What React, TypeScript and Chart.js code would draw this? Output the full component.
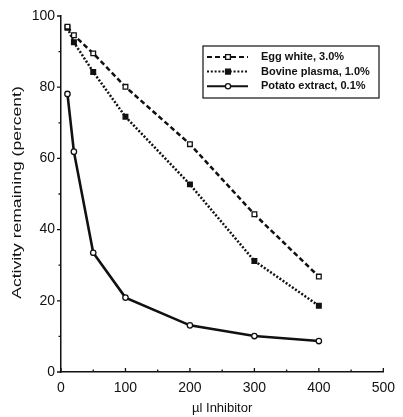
import React, { useEffect, useRef } from "react";
import { Chart, registerables } from "chart.js";

Chart.register(...registerables);

const doses = [10, 20, 50, 100, 200, 300, 400];
const eggWhite = [97, 94.6, 89.5, 80.1, 64.0, 44.3, 26.8];
const bovinePlasma = [96.7, 92.6, 84.3, 71.7, 52.7, 31.2, 18.6];
const potatoExtract = [78.1, 61.9, 33.5, 20.9, 13.1, 10.1, 8.7];
const seriesLabels = ["Egg white, 3.0%", "Bovine plasma, 1.0%", "Potato extract, 0.1%"];
const xTitle = "\u00b5l Inhibitor";
const yTitle = "Activity remaining (percent)";

const FONT = "'Liberation Sans', Arial, Helvetica, sans-serif";
const INK = "#111";

const ticksPlugin = {
  id: "customTicks",
  afterDraw(chart: any) {
    const ctx = chart.ctx;
    const xs = chart.scales.x;
    const ys = chart.scales.y;
    ctx.save();
    ctx.strokeStyle = INK;
    ctx.lineWidth = 1.3;
    ctx.beginPath();
    for (let v = 0; v <= 500; v += 50) {
      const px = xs.getPixelForValue(v);
      const len = v % 100 === 0 ? 4 : 2.5;
      ctx.moveTo(px, xs.top);
      ctx.lineTo(px, xs.top - len);
    }
    for (let v = 0; v <= 100; v += 10) {
      const py = ys.getPixelForValue(v);
      const len = v % 20 === 0 ? 4 : 2.5;
      ctx.moveTo(ys.right, py);
      ctx.lineTo(ys.right - len, py);
    }
    ctx.stroke();
    // y-axis title (stretched like the original scan)
    const cy = (chart.chartArea.top + chart.chartArea.bottom) / 2 - 1.5;
    ctx.translate(17.5, cy);
    ctx.rotate(-Math.PI / 2);
    ctx.scale(1.35, 1);
    ctx.fillStyle = INK;
    ctx.font = `13px ${FONT}`;
    ctx.textAlign = "center";
    ctx.textBaseline = "middle";
    ctx.fillText(yTitle, 0, 0);
    ctx.restore();
  },
};

function drawMarker(ctx: any, style: string, x: number, y: number, fill: string) {
  ctx.beginPath();
  if (style === "circle") {
    ctx.arc(x, y, 2.6, 0, Math.PI * 2);
  } else {
    ctx.rect(x - 2.4, y - 2.4, 4.8, 4.8);
  }
  ctx.fillStyle = fill;
  ctx.fill();
  ctx.setLineDash([]);
  ctx.lineWidth = 1.3;
  ctx.strokeStyle = INK;
  ctx.stroke();
}

const legendPlugin = {
  id: "boxLegend",
  afterDraw(chart: any) {
    const ctx = chart.ctx;
    const boxL = 203, boxT = 46, boxW = 176, boxH = 52;
    ctx.save();
    ctx.fillStyle = "#fff";
    ctx.fillRect(boxL, boxT, boxW, boxH);
    ctx.strokeStyle = INK;
    ctx.lineWidth = 1.2;
    ctx.setLineDash([]);
    ctx.strokeRect(boxL, boxT, boxW, boxH);
    chart.data.datasets.forEach((ds: any, i: number) => {
      const y = 57 + i * 14.6;
      ctx.beginPath();
      ctx.setLineDash(ds.borderDash || []);
      ctx.lineWidth = 2;
      ctx.strokeStyle = INK;
      ctx.moveTo(207, y);
      ctx.lineTo(248, y);
      ctx.stroke();
      drawMarker(ctx, ds.pointStyle, 228, y, ds.pointBackgroundColor);
      ctx.fillStyle = INK;
      ctx.font = `bold 11px ${FONT}`;
      ctx.textBaseline = "middle";
      ctx.textAlign = "left";
      ctx.fillText(ds.label, 261, y);
    });
    ctx.restore();
  },
};

export default function App() {
  const ref = useRef<HTMLCanvasElement>(null);
  useEffect(() => {
    document.body.style.margin = "0";
    const mk = (vals: number[]) => doses.map((x, i) => ({ x, y: vals[i] }));
    const chart = new Chart(ref.current!, {
      type: "line",
      data: {
        datasets: [
          {
            label: seriesLabels[0],
            data: mk(eggWhite),
            borderColor: INK,
            borderWidth: 2.5,
            borderDash: [5, 3],
            pointStyle: "rect",
            pointRadius: 3.3,
            pointBackgroundColor: "#fff",
            pointBorderColor: INK,
            pointBorderWidth: 1.3,
            tension: 0,
          },
          {
            label: seriesLabels[1],
            data: mk(bovinePlasma),
            borderColor: INK,
            borderWidth: 2.5,
            borderDash: [2, 1.8],
            pointStyle: "rect",
            pointRadius: 3.3,
            pointBackgroundColor: INK,
            pointBorderColor: INK,
            pointBorderWidth: 1.3,
            tension: 0,
          },
          {
            label: seriesLabels[2],
            data: mk(potatoExtract),
            borderColor: INK,
            borderWidth: 2.6,
            pointStyle: "circle",
            pointRadius: 2.7,
            pointBackgroundColor: "#fff",
            pointBorderColor: INK,
            pointBorderWidth: 1.3,
            tension: 0,
          },
        ],
      },
      options: {
        animation: false,
        responsive: false,
        devicePixelRatio: 1,
        layout: { padding: { top: 16, right: 13, left: 0, bottom: 0 } },
        plugins: { legend: { display: false }, tooltip: { enabled: false } },
        scales: {
          x: {
            type: "linear",
            min: 0,
            max: 500,
            afterFit: (s: any) => { s.height = 45; },
            grid: { display: false, drawTicks: false },
            border: { display: true, color: INK, width: 1.5 },
            ticks: { stepSize: 100, padding: 8, color: INK, font: { family: FONT, size: 14 } },
            title: { display: true, text: xTitle, color: INK, font: { family: FONT, size: 13 }, padding: { top: 0, bottom: 1 } },
          },
          y: {
            type: "linear",
            min: 0,
            max: 100,
            afterFit: (s: any) => { s.width = 61; },
            grid: { display: false, drawTicks: false },
            border: { display: true, color: INK, width: 1.5 },
            ticks: { stepSize: 20, padding: 6, color: INK, font: { family: FONT, size: 14 } },
            title: { display: false },
          },
        },
      },
      plugins: [ticksPlugin, legendPlugin],
    });
    return () => chart.destroy();
  }, []);
  return (
    <div style={{ width: 403, height: 417 }}>
      <canvas ref={ref} width={403} height={417} />
    </div>
  );
}
